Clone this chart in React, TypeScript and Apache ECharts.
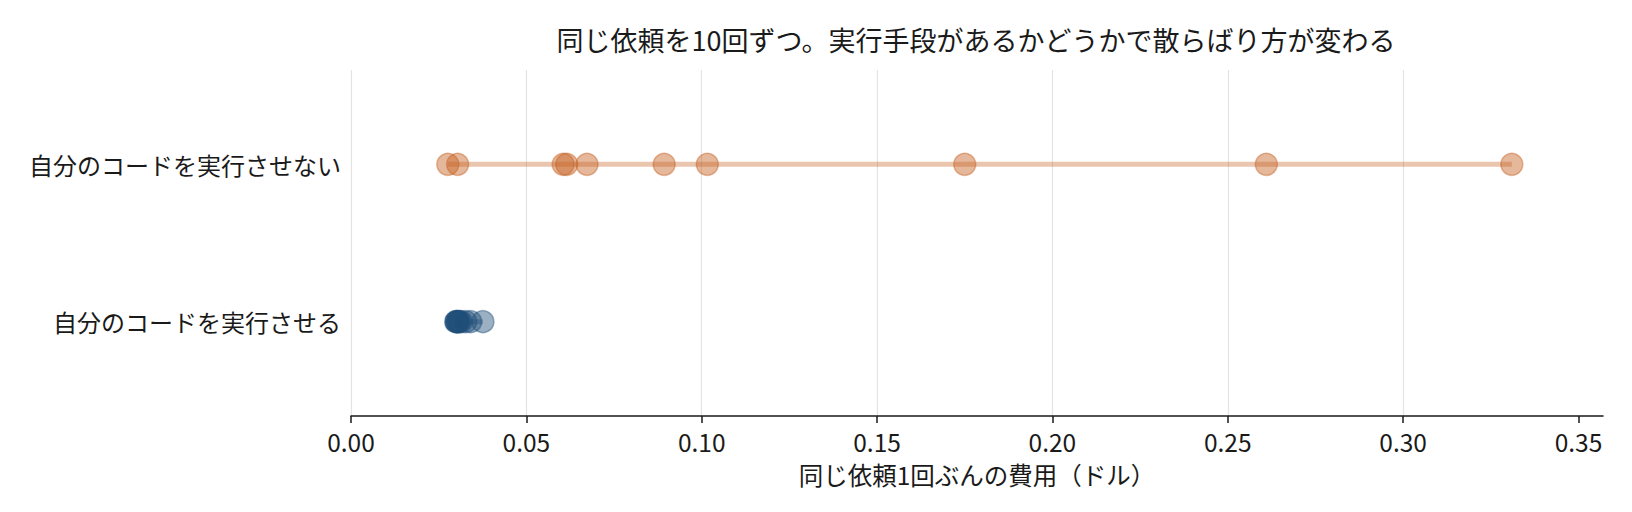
import * as echarts from "echarts";
import { useEffect, useRef } from "react";

// Categories (bottom to top)
const categories = ["自分のコードを実行させる", "自分のコードを実行させない"];

// Cost per request (USD), 10 runs each
const withExec = [0.0299, 0.03, 0.0302, 0.0304, 0.0306, 0.0309, 0.0314, 0.0327, 0.0341, 0.0376];
const withoutExec = [0.0276, 0.0304, 0.0605, 0.0615, 0.0673, 0.0893, 0.1016, 0.175, 0.261, 0.331];

const xTicks = [0, 0.05, 0.1, 0.15, 0.2, 0.25, 0.3, 0.35];
const xMax = 0.357;

const titleText = "同じ依頼を10回ずつ。実行手段があるかどうかで散らばり方が変わる";
const xName = "同じ依頼1回ぶんの費用（ドル）";

const FONT = '"Noto Sans CJK JP", "Noto Sans", sans-serif';
const ORANGE = "196,96,34";
const BLUE = "31,78,121";

export default function App() {
  const chartRef = useRef<HTMLDivElement | null>(null);

  useEffect(() => {
    const el = chartRef.current;
    if (!el) return;
    const chart = echarts.init(el, undefined, { renderer: "svg" });

    const rows = [
      { values: withExec, y: 0, rgb: BLUE },
      { values: withoutExec, y: 1, rgb: ORANGE },
    ];

    const series: echarts.SeriesOption[] = [];
    rows.forEach((r) => {
      series.push({
        type: "line",
        data: [
          [Math.min(...r.values), r.y],
          [Math.max(...r.values), r.y],
        ],
        symbol: "none",
        lineStyle: { width: 5, color: `rgba(${r.rgb},0.36)` },
        z: 1,
        silent: true,
      });
      series.push({
        type: "scatter",
        data: r.values.map((v) => [v, r.y]),
        symbolSize: 22,
        itemStyle: {
          color: `rgba(${r.rgb},0.56)`,
          borderColor: `rgba(${r.rgb},0.56)`,
          borderWidth: 1.5,
        },
        z: 2,
      });
    });

    chart.setOption({
      animation: false,
      textStyle: { fontFamily: FONT },
      title: {
        text: titleText,
        left: 971,
        top: 21,
        textAlign: "center",
        textStyle: { fontSize: 27, fontWeight: "normal", color: "#1a1a1a", fontFamily: FONT },
      },
      grid: { left: 351, right: 29, top: 70, bottom: 96 },
      xAxis: {
        type: "value",
        min: 0,
        max: xMax,
        interval: 0.05,
        name: xName,
        nameLocation: "middle",
        nameGap: 46,
        nameTextStyle: { fontSize: 24.5, lineHeight: 25, color: "#1a1a1a", fontFamily: FONT },
        axisLine: { show: true, onZero: false, lineStyle: { color: "#1a1a1a", width: 1.5 } },
        axisTick: {
          show: true,
          length: 7,
          customValues: xTicks,
          lineStyle: { color: "#1a1a1a", width: 1.5 },
        },
        axisLabel: {
          customValues: xTicks,
          fontSize: 24.5,
          lineHeight: 25,
          color: "#1a1a1a",
          margin: 13,
          fontFamily: FONT,
          formatter: (v: number) => v.toFixed(2),
        },
        splitLine: {
          show: true,
          showMaxLine: false,
          lineStyle: { color: "#e3e3e3", width: 1.2 },
        },
      },
      yAxis: {
        type: "value",
        min: -0.6,
        max: 1.6,
        axisLine: { show: false },
        axisTick: { show: false },
        splitLine: { show: false },
        axisLabel: {
          customValues: [0, 1],
          fontSize: 24,
          color: "#1a1a1a",
          margin: 10,
          fontFamily: FONT,
          formatter: (v: number) => categories[Math.round(v)] ?? "",
        },
      },
      series,
    });

    return () => {
      if (!chart.isDisposed()) chart.dispose();
    };
  }, []);

  return (
    <div
      ref={chartRef}
      style={{ position: "fixed", left: 0, top: 0, width: 1632, height: 512, background: "#fff" }}
    />
  );
}
